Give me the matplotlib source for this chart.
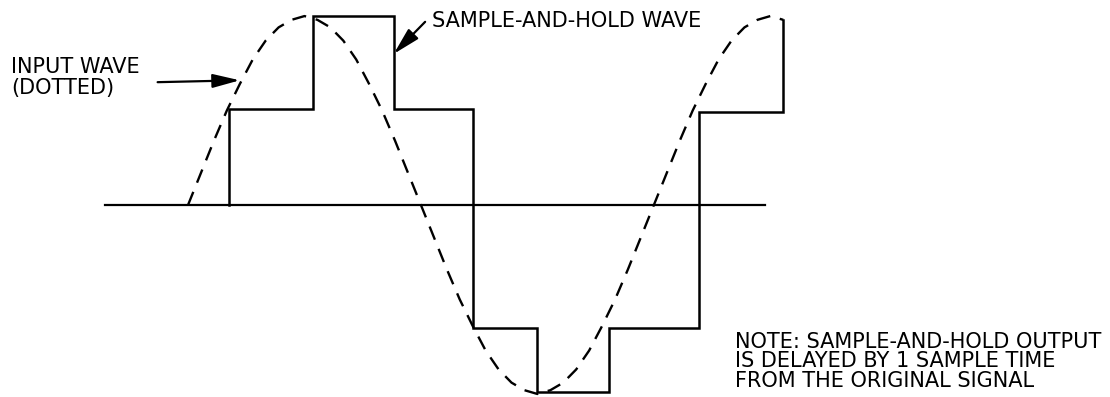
import numpy as np
import matplotlib.pyplot as plt

# input wave (dashed), phase in degrees and amplitude
wave_phase = [0, 10, 20, 30, 40, 50, 60, 70, 80, 90, 100, 110, 120, 130, 140, 150,
              160, 170, 180, 190, 200, 210, 220, 230, 240, 250, 260, 270, 280, 290,
              300, 310, 320, 330, 340, 350, 360, 370, 380, 390, 400, 410, 420, 430,
              440, 450, 460]
wave_amp = [0.0, 0.17, 0.34, 0.50, 0.64, 0.77, 0.87, 0.94, 0.98, 1.0, 0.98, 0.94,
            0.87, 0.77, 0.64, 0.50, 0.34, 0.17, 0.0, -0.17, -0.34, -0.50, -0.64,
            -0.77, -0.87, -0.94, -0.98, -1.0, -0.98, -0.94, -0.87, -0.77, -0.64,
            -0.50, -0.34, -0.17, 0.0, 0.17, 0.34, 0.50, 0.64, 0.77, 0.87, 0.94,
            0.98, 1.0, 0.98]

# sample-and-hold: sample instants and held levels
sample_times = [31.7, 96.6, 159, 220, 270, 325, 395, 460]
held_levels = [0.51, 1.0, 0.51, -0.65, -0.99, -0.65, 0.49, 0.98]

axis_start, axis_end = -64, 446

input_label = "INPUT WAVE\n(DOTTED)"
sh_label = "SAMPLE-AND-HOLD WAVE"
note_label = ("NOTE: SAMPLE-AND-HOLD OUTPUT\n"
              "IS DELAYED BY 1 SAMPLE TIME\n"
              "FROM THE ORIGINAL SIGNAL")


def stair_path(times, levels):
    # vertical jump at each sample time, then hold until the next one
    xs = np.repeat(times, 2)
    ys = np.concatenate([[0.0], np.repeat(levels, 2)[:-1]])
    return xs, ys


def main():
    fig = plt.figure(figsize=(11.1, 3.97), dpi=100)
    ax = fig.add_axes([0, 0, 1, 1])
    ax.set_xlim(-145.3, 712.5)
    ax.set_ylim(-1.016, 1.085)
    ax.axis("off")

    # zero line
    ax.plot([axis_start, axis_end], [0, 0], color="black", lw=1.6)

    # input wave
    ax.plot(wave_phase, wave_amp, color="black", lw=1.7,
            linestyle=(0, (6.0, 4.2)))

    # staircase
    xs, ys = stair_path(sample_times, held_levels)
    ax.plot(xs, ys, color="black", lw=1.8, solid_joinstyle="miter")

    font = dict(family="DejaVu Sans", fontsize=15, color="black")

    ax.text(0.010, 0.857, input_label, transform=ax.transAxes,
            ha="left", va="top", linespacing=1.06, **font)
    ax.text(0.389, 0.972, sh_label, transform=ax.transAxes,
            ha="left", va="top", **font)
    ax.text(0.662, 0.164, note_label, transform=ax.transAxes,
            ha="left", va="top", linespacing=0.97, **font)

    arrow = dict(arrowstyle="-|>,head_length=1.1,head_width=0.28",
                 color="black", lw=1.6, mutation_scale=15, shrinkA=0, shrinkB=0)
    ax.annotate("", xy=(40, 0.66), xytext=(0.142, 0.793),
                textcoords="axes fraction", arrowprops=arrow)
    ax.annotate("", xy=(159, 0.80), xytext=(0.383, 0.945),
                textcoords="axes fraction", arrowprops=arrow)

    fig.savefig("out.png", dpi=100, facecolor="white")
    plt.close(fig)


if __name__ == "__main__":
    main()
